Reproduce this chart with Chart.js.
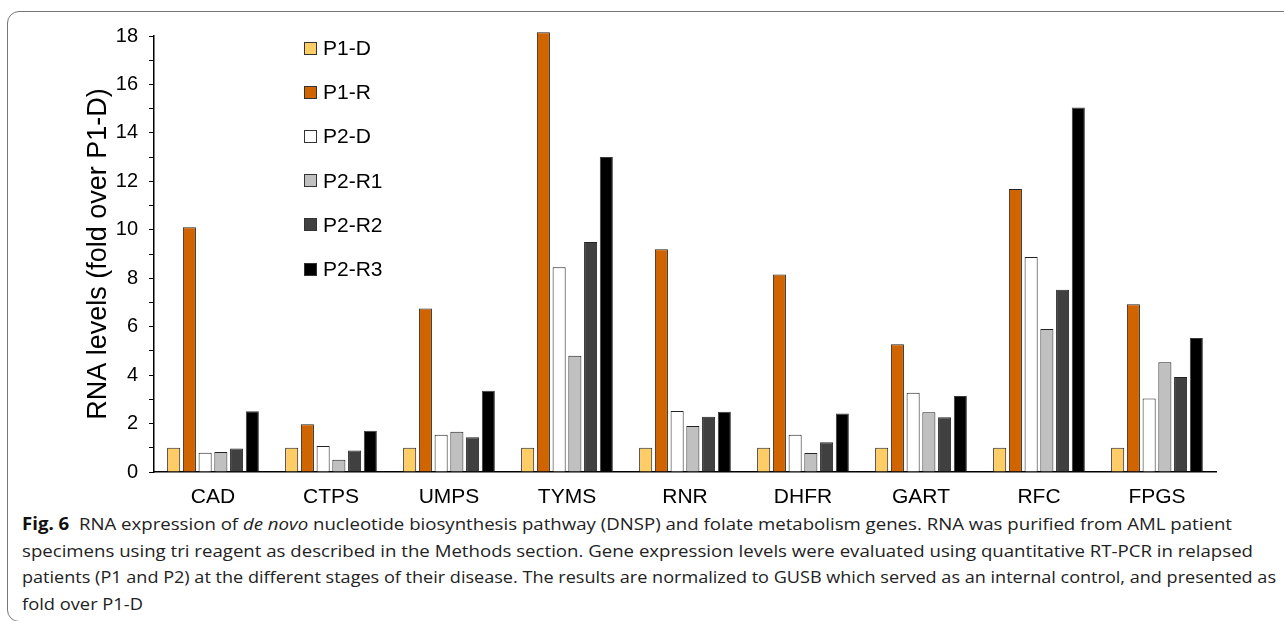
<!DOCTYPE html>
<html>
<head>
<meta charset="utf-8">
<script src="https://cdn.jsdelivr.net/npm/chart.js@4"></script>
<style>
  html, body { margin: 0; padding: 0; background: #fff; }
  #page { position: relative; width: 1284px; height: 621px; overflow: hidden; }
  #frame {
    position: absolute; left: 7px; top: 11px; width: 1320px; height: 611px;
    border: 1.5px solid #777; border-radius: 12px; box-sizing: border-box;
  }
  #chart { position: absolute; left: 0; top: 0; }
  #legend { position: absolute; left: 304px; top: 0; font-family: "Liberation Sans", Arial, sans-serif; font-size: 21px; color: #000; }
  .lg-row { position: absolute; left: 0; display: flex; align-items: center; white-space: nowrap; height: 24px; }
  .lg-box { width: 11px; height: 11px; border: 1px solid #333; margin-right: 6px; }
  #caption { position: absolute; left: 22px; top: 0; font-family: "Open Sans", sans-serif; font-size: 17px; color: #222; }
  .cap-line { position: absolute; left: 0; white-space: nowrap; transform-origin: 0 50%; }
</style>
</head>
<body>
<div id="page">
  <div id="frame"></div>
  <canvas id="chart" width="1284" height="510"></canvas>
  <div id="legend"></div>
  <div id="caption"></div>
</div>
<script>
// Data
const genes = ['CAD', 'CTPS', 'UMPS', 'TYMS', 'RNR', 'DHFR', 'GART', 'RFC', 'FPGS'];
const p1d  = [1, 1, 1, 1, 1, 1, 1, 1, 1];
const p1r  = [10.1, 1.97, 6.75, 18.15, 9.2, 8.15, 5.27, 11.68, 6.93];
const p2d  = [0.79, 1.07, 1.54, 8.45, 2.52, 1.54, 3.27, 8.88, 3.03];
const p2r1 = [0.83, 0.51, 1.66, 4.8, 1.9, 0.78, 2.47, 5.9, 4.53];
const p2r2 = [0.97, 0.89, 1.43, 9.5, 2.28, 1.23, 2.26, 7.52, 3.92];
const p2r3 = [2.51, 1.7, 3.35, 13.0, 2.49, 2.42, 3.14, 15.05, 5.53];
const seriesNames = ['P1-D', 'P1-R', 'P2-D', 'P2-R1', 'P2-R2', 'P2-R3'];
const seriesColors = ['#ffcd66', '#d06500', '#ffffff', '#c0c0c0', '#404040', '#000000'];
const yTicks = [0, 2, 4, 6, 8, 10, 12, 14, 16, 18];

const allSeries = [p1d, p1r, p2d, p2r1, p2r2, p2r3];
const FONT = '"Liberation Sans", Arial, sans-serif';

const datasets = allSeries.map((vals, i) => ({
    label: seriesNames[i],
    data: vals,
    backgroundColor: seriesColors[i],
    borderColor: i === 5 ? '#3a3a3a' : '#222',
    borderWidth: 1,
    categoryPercentage: 0.8,
    barPercentage: 0.83,
    clip: false   // TYMS P1-R sits just above the 18 tick
}));

new Chart(document.getElementById('chart'), {
    type: 'bar',
    data: { labels: genes, datasets: datasets },
    options: {
        responsive: false,
        animation: false,
        devicePixelRatio: 1,
        layout: { padding: { left: 0, right: 68, top: 36, bottom: 0 } },
        plugins: { legend: { display: false }, tooltip: { enabled: false } },
        scales: {
            x: {
                grid: { display: false },
                border: { display: true, color: '#000', width: 1.5 },
                ticks: { color: '#000', padding: 5, font: { family: FONT, size: 21 } },
                afterFit: s => { s.height = 38; }
            },
            y: {
                min: 0,
                max: 18,
                ticks: {
                    stepSize: 1,
                    autoSkip: false,
                    padding: 11,
                    color: '#000',
                    font: { family: FONT, size: 20 },
                    callback: v => yTicks.includes(v) ? v : ''
                },
                grid: { drawOnChartArea: false, drawTicks: true, tickLength: 5, color: '#000', lineWidth: 1 },
                border: { display: true, color: '#000', width: 1.5 },
                title: {
                    display: true,
                    text: 'RNA levels (fold over P1-D)',
                    color: '#000',
                    font: { family: FONT, size: 27 },
                    padding: { top: 82, bottom: 0 }
                },
                afterFit: s => { s.width = 154; }
            }
        }
    }
});

// Legend
const legend = document.getElementById('legend');
seriesNames.forEach((name, i) => {
    const row = document.createElement('div');
    row.className = 'lg-row';
    row.style.top = (48 + i * 44.2 - 12) + 'px';
    row.innerHTML = `<span class="lg-box" style="background:${seriesColors[i]}"></span><span>${name}</span>`;
    legend.appendChild(row);
});

// Caption
const captionLines = [
    '<b style="color:#111">Fig. 6</b>&nbsp; RNA expression of <i>de novo</i> nucleotide biosynthesis pathway (DNSP) and folate metabolism genes. RNA was purified from AML patient',
    'specimens using tri reagent as described in the Methods section. Gene expression levels were evaluated using quantitative RT-PCR in relapsed',
    'patients (P1 and P2) at the different stages of their disease. The results are normalized to GUSB which served as an internal control, and presented as',
    'fold over P1-D'
];
const captionWidths = [1210, 1231, 1254, 121];
const caption = document.getElementById('caption');
captionLines.forEach((html, i) => {
    const line = document.createElement('div');
    line.className = 'cap-line';
    line.style.top = (512 + i * 26.5) + 'px';
    line.innerHTML = html;
    caption.appendChild(line);
    const w = line.getBoundingClientRect().width;
    line.style.transform = `scaleX(${captionWidths[i] / w})`;
});
</script>
</body>
</html>
